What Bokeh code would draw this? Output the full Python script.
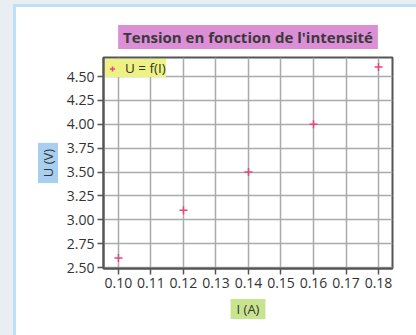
from bokeh.plotting import figure
from bokeh.models import Title, Legend, LegendItem, Range1d, FixedTicker, NumeralTickFormatter
from bokeh.embed import file_html
from bokeh.resources import INLINE

# Data
intensite = [0.10, 0.12, 0.14, 0.16, 0.18]
tension = [2.6, 3.1, 3.5, 4.0, 4.6]
x_ticks = [0.10, 0.11, 0.12, 0.13, 0.14, 0.15, 0.16, 0.17, 0.18]
y_ticks = [2.50, 2.75, 3.00, 3.25, 3.50, 3.75, 4.00, 4.25, 4.50]
title_text = "Tension en fonction de l'intensité"
x_label = "I (A)"
y_label = "U (V)"
series_label = "U = f(I)"

FONT = "Open Sans"
TXT = "#333333"
AX = "#555555"

p = figure(width=416, height=335, output_backend="svg", toolbar_location=None,
           x_range=Range1d(0.0954, 0.1843), y_range=Range1d(2.49, 4.70),
           min_border_left=103, min_border_right=24, min_border_top=57, min_border_bottom=67,
           border_fill_color=None, background_fill_color="white")
p.styles = {"background-color": "white",
            "box-shadow": "inset 13px 4px 0 0 #e9eef2, inset 16px 7px 0 0 #bde0f5"}

p.title = Title(text=title_text, align="center", text_font=FONT, text_font_size="15px",
                text_font_style="bold", text_color="#3a3a3a",
                background_fill_color="#dc8fd6", padding=(5, 2), standoff=17)

p.add_layout(Title(text=y_label, align="center", text_font=FONT, text_font_size="13px",
                   text_font_style="normal", text_color="#333333",
                   background_fill_color="#a9cff0", padding=(6, 1), standoff=11), "left")
p.add_layout(Title(text=x_label, align="center", text_font=FONT, text_font_size="13px",
                   text_font_style="normal", text_color="#333333",
                   background_fill_color="#c9e48f", padding=(6, 1), standoff=13), "below")

r = p.scatter(intensite, tension, marker="cross", size=8, line_color="#e8457a",
              line_width=1.5)

for ax, ticks in ((p.xaxis, x_ticks), (p.yaxis, y_ticks)):
    ax.ticker = FixedTicker(ticks=ticks)
    ax.formatter = NumeralTickFormatter(format="0.00")
    ax.major_label_text_font = FONT
    ax.major_label_text_font_size = "14px"
    ax.major_label_text_color = TXT
    ax.axis_line_color = AX
    ax.axis_line_width = 2
    ax.major_tick_line_color = AX
    ax.major_tick_line_width = 1.5
    ax.major_tick_out = 6
    ax.major_tick_in = 0
    ax.minor_tick_line_color = None
    ax.major_label_standoff = 3

p.grid.grid_line_color = "#aaaaaa"
p.grid.grid_line_width = 1.5
p.xgrid.ticker = FixedTicker(ticks=x_ticks)
p.ygrid.ticker = FixedTicker(ticks=y_ticks)

p.outline_line_color = AX
p.outline_line_width = 2

legend = Legend(items=[LegendItem(label=series_label, renderers=[r])],
                location="top_left", background_fill_color="#eef282", background_fill_alpha=1,
                border_line_color=None, label_text_font=FONT, label_text_font_size="13.5px",
                label_text_color=TXT, glyph_width=14, glyph_height=13, padding=3,
                margin=2, label_standoff=6, label_height=13)
p.add_layout(legend)

open("out.html", "w").write(file_html(p, INLINE))
